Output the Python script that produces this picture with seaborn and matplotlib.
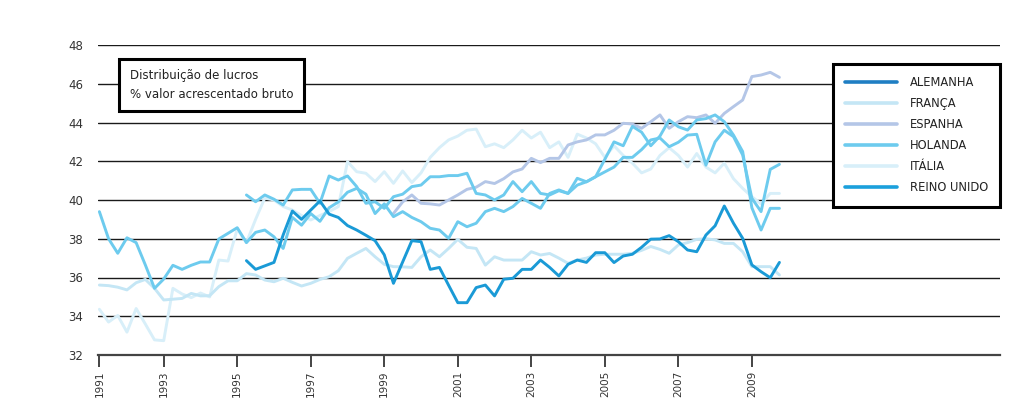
import numpy as np
import pandas as pd
import matplotlib
matplotlib.use("Agg")
import matplotlib.pyplot as plt
from matplotlib.lines import Line2D
from matplotlib.patches import Rectangle
import seaborn as sns

nan = np.nan
tick_labels = ["1991", "1993", "1995", "1997", "1999", "2001", "2003", "2005", "2007", "2009"]
tick_quarters = [0, 7, 15, 23, 31, 39, 47, 55, 63, 71]

alemanha = [nan] * 16 + [
    36.87, 36.42, 36.6, 36.78, 38.2, 39.43, 39.0, 39.48, 39.95, 39.27,
    39.1, 38.68, 38.45, 38.18, 37.9, 37.17, 35.7, 36.8, 37.9, 37.85,
    36.42, 36.52, 35.6, 34.7, 34.7, 35.48, 35.61, 35.05, 35.91, 35.96,
    36.42, 36.42, 36.9, 36.52, 36.08, 36.68, 36.9, 36.78, 37.28, 37.28,
    36.77, 37.11, 37.2, 37.56, 37.98, 37.99, 38.16, 37.85, 37.42, 37.33,
    38.19, 38.67, 39.69, 38.8, 38.02, 36.65, 36.3, 35.99, 36.78]

franca = [
    35.61, 35.58, 35.5, 35.36, 35.73, 35.9, 35.44, 34.84, 34.88, 34.92,
    35.18, 35.05, 35.06, 35.53, 35.83, 35.83, 36.2, 36.13, 35.87, 35.78,
    35.96, 35.75, 35.56, 35.7, 35.9, 36.04, 36.35, 36.99, 37.25, 37.5,
    37.07, 36.68, 36.56, 36.55, 36.52, 37.07, 37.42, 37.07, 37.5, 37.97,
    37.56, 37.5, 36.64, 37.07, 36.9, 36.9, 36.9, 37.33, 37.16, 37.24,
    37.0, 36.73, 36.9, 37.0, 37.16, 37.2, 37.2, 37.2, 37.25, 37.4,
    37.6, 37.45, 37.25, 37.68, 37.8, 37.97, 38.0, 37.94, 37.76, 37.76,
    37.33, 36.56, 36.56, 36.56, 36.13]

espanha = [nan] * 32 + [
    39.3, 39.9, 40.26, 39.83, 39.8, 39.74, 40.0, 40.26, 40.55, 40.66,
    40.95, 40.85, 41.1, 41.45, 41.6, 42.15, 41.93, 42.15, 42.15, 42.84,
    43.0, 43.1, 43.36, 43.36, 43.6, 43.96, 43.92, 43.7, 44.04, 44.39,
    43.7, 44.04, 44.3, 44.25, 44.39, 43.96, 44.47, 44.82, 45.16, 46.37,
    46.45, 46.59, 46.33]

holanda = [
    39.4, 38.0, 37.25, 38.05, 37.8, 36.65, 35.44, 35.92, 36.63, 36.42,
    36.63, 36.8, 36.8, 37.99, 38.28, 38.57, 37.8, 38.33, 38.45, 38.1,
    37.5, 39.1, 38.7, 39.3, 38.9, 39.6, 39.9, 40.4, 40.6, 40.3,
    39.3, 39.8, 39.14, 39.4, 39.1, 38.88, 38.54, 38.45, 38.02, 38.88,
    38.62, 38.8, 39.4, 39.57, 39.4, 39.66, 40.08, 39.83, 39.57, 40.34,
    40.52, 40.34, 40.77, 40.94, 41.2, 41.45, 41.7, 42.2, 42.2, 42.6,
    43.1, 43.2, 42.75, 42.98, 43.35, 43.39, 41.8, 43.0, 43.6, 43.27,
    42.32, 40.09, 39.4, 41.58, 41.84]

italia = [
    34.36, 33.7, 34.04, 33.18, 34.4, 33.6, 32.78, 32.74, 35.44, 35.15,
    34.96, 35.2, 35.0, 36.9, 36.85, 38.5, 37.8, 39.0, 40.1, 40.0,
    39.66, 39.48, 39.2, 38.97, 39.2, 39.4, 39.66, 41.98, 41.46, 41.38,
    40.95, 41.46, 40.86, 41.5, 40.9, 41.4, 42.2, 42.7, 43.1, 43.3,
    43.6, 43.66, 42.75, 42.9, 42.7, 43.1, 43.6, 43.2, 43.5, 42.7,
    43.0, 42.2, 43.4, 43.2, 42.9, 42.2, 42.8, 42.3, 41.9, 41.4,
    41.6, 42.3, 42.7, 42.3, 41.7, 42.4, 41.7, 41.4, 41.9, 41.1,
    40.6, 40.17, 39.8, 40.34, 40.34]

reino_unido = [nan] * 16 + [
    40.26, 39.91, 40.26, 40.04, 39.74, 40.52, 40.55, 40.55, 39.83, 41.24,
    41.03, 41.24, 40.69, 39.83, 39.91, 39.57, 40.17, 40.3, 40.69, 40.77,
    41.2, 41.2, 41.26, 41.26, 41.38, 40.34, 40.26, 40.0, 40.26, 40.95,
    40.43, 40.95, 40.34, 40.26, 40.48, 40.34, 41.12, 40.94, 41.2, 42.1,
    43.0, 42.8, 43.8, 43.5, 42.8, 43.3, 44.13, 43.78, 43.61, 44.13,
    44.2, 44.39, 44.04, 43.35, 42.5, 39.6, 38.45, 39.57, 39.57]

series = {
    "ALEMANHA": alemanha,
    "FRANÇA": franca,
    "ESPANHA": espanha,
    "HOLANDA": holanda,
    "ITÁLIA": italia,
    "REINO UNIDO": reino_unido,
}
colors = {
    "ALEMANHA": "#1a9ad6",
    "FRANÇA": "#c4e6f5",
    "ESPANHA": "#b4c6e7",
    "HOLANDA": "#6dcbee",
    "ITÁLIA": "#d8eff9",
    "REINO UNIDO": "#6dcbee",
}
legend_colors = {
    "ALEMANHA": "#1f7ec3",
    "FRANÇA": "#c4e6f5",
    "ESPANHA": "#b4c6e7",
    "HOLANDA": "#6dcbee",
    "ITÁLIA": "#d8eff9",
    "REINO UNIDO": "#1ba0dc",
}

rows = []
for name, vals in series.items():
    for q, v in enumerate(vals):
        rows.append({"q": q, "valor": v, "pais": name})
df = pd.DataFrame(rows).dropna()

sns.set_theme(style="white")
plt.rcParams["font.family"] = ["DejaVu Sans"]

fig = plt.figure(figsize=(10.21, 4.08), dpi=100)
ax = fig.add_axes([98 / 1021, 1 - 355 / 408, 902 / 1021, 310 / 408])

draw_order = ["ITÁLIA", "FRANÇA", "ESPANHA", "HOLANDA", "REINO UNIDO", "ALEMANHA"]
sns.lineplot(data=df, x="q", y="valor", hue="pais", hue_order=draw_order,
             palette=colors, linewidth=2.1, ax=ax, legend=False, sort=True,
             estimator=None, zorder=3)

ax.set_xlim(-0.15, 98)
ax.set_ylim(32, 48)
ax.set_yticks(np.arange(32, 49, 2))
ax.set_yticklabels([str(v) for v in range(32, 49, 2)], fontsize=8.5, color="#333333")
ax.yaxis.grid(True, color="#1a1a1a", linewidth=1.0)
ax.set_axisbelow(True)
ax.tick_params(axis="y", length=0, pad=10.5)
ax.set_xticks(tick_quarters)
ax.set_xticklabels(tick_labels, rotation=90, fontsize=7.5, color="#333333")
ax.tick_params(axis="x", length=8.5, width=1.4, color="#444444", pad=3, direction="out", bottom=True)
for s in ["top", "right", "left"]:
    ax.spines[s].set_visible(False)
ax.spines["bottom"].set_color("#444444")
ax.spines["bottom"].set_linewidth(1.6)
ax.set_xlabel("")
ax.set_ylabel("")

# annotation box
box = Rectangle((21 / 902, (355 - 111) / 310), 185 / 902, 52 / 310, transform=ax.transAxes,
                facecolor="white", edgecolor="black", linewidth=2.2, zorder=5)
ax.add_patch(box)
ax.text(32 / 902, (355 - 75) / 310, "Distribuição de lucros", transform=ax.transAxes,
        fontsize=8.5, color="#222222", va="center", ha="left", zorder=6)
ax.text(32 / 902, (355 - 94) / 310, "% valor acrescentado bruto", transform=ax.transAxes,
        fontsize=8.5, color="#222222", va="center", ha="left", zorder=6)

handles = [Line2D([0], [0], color=legend_colors[n], linewidth=2.6) for n in series]
leg = ax.legend(handles, list(series.keys()), loc="upper left",
                bbox_to_anchor=((833 - 98) / 902, (355 - 64) / 310),
                frameon=True, fancybox=False, framealpha=1, fontsize=8.3,
                handlelength=4.5, handletextpad=1.1, labelspacing=0.7,
                borderpad=1.05, borderaxespad=0)
leg.get_frame().set_edgecolor("black")
leg.get_frame().set_linewidth(2.2)
leg.set_zorder(6)
for t in leg.get_texts():
    t.set_color("#222222")

fig.savefig("out.png", dpi=100)
